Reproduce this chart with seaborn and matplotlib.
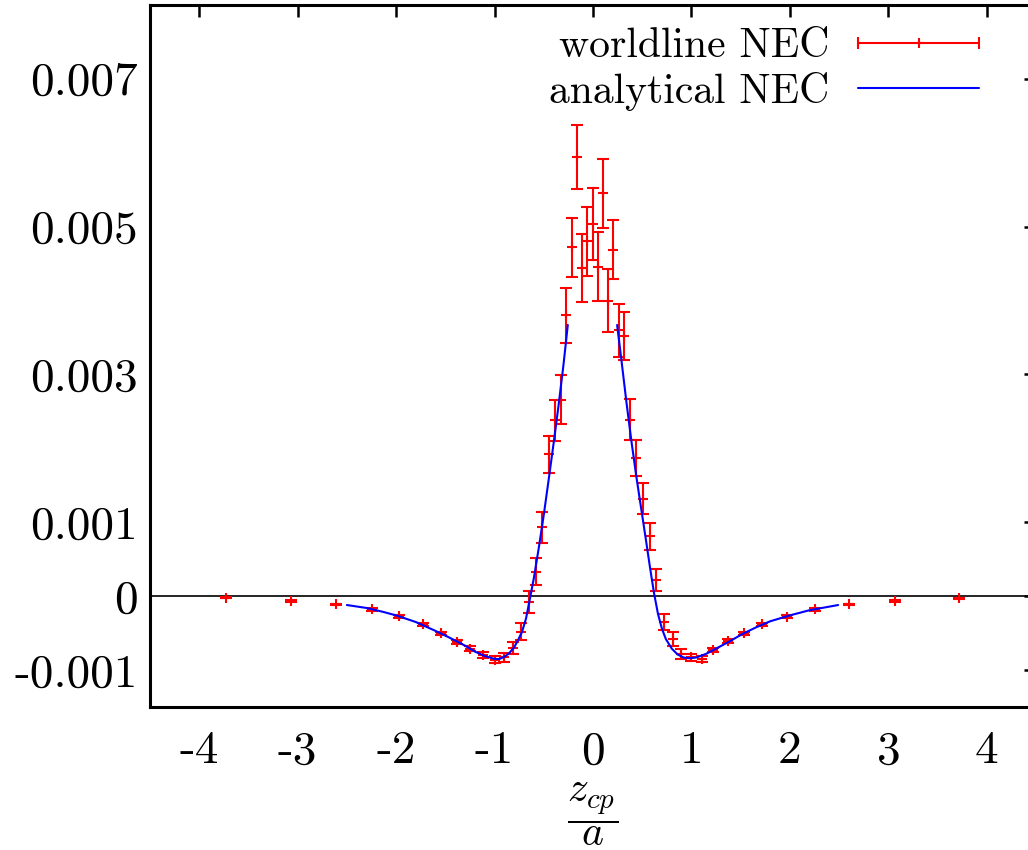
import numpy as np
import pandas as pd
import matplotlib
matplotlib.use('Agg')
import matplotlib.pyplot as plt
import seaborn as sns
from matplotlib.lines import Line2D
from matplotlib.legend_handler import HandlerLine2D, HandlerTuple

# worldline NEC data (with errors)
x_wl = [-3.73, -3.07, -2.61, -2.25, -1.97, -1.73, -1.54, -1.38, -1.25, -1.12,
        -1.0, -0.90, -0.81, -0.73, -0.652, -0.584, -0.516, -0.45, -0.384, -0.327,
        -0.272, -0.218, -0.165, -0.11, -0.056, 0.0, 0.046, 0.10, 0.154, 0.205,
        0.262, 0.317, 0.377, 0.438, 0.506, 0.574, 0.64, 0.726, 0.81, 0.895,
        0.997, 1.11, 1.22, 1.37, 1.53, 1.72, 1.97, 2.25, 2.60, 3.07, 3.72]
y_wl = [-0.00002, -0.000064, -0.00011, -0.00018, -0.00027, -0.00038, -0.0005, -0.00062, -0.00071, -0.0008,
        -0.00086, -0.00083, -0.0007, -0.00048, -0.00008, 0.00033, 0.00093, 0.00192, 0.00238, 0.00266,
        0.0038, 0.00472, 0.00594, 0.00444, 0.0048, 0.00504, 0.00446, 0.00545, 0.0040, 0.00469,
        0.0036, 0.00352, 0.00239, 0.00187, 0.00132, 0.00081, 0.00022, -0.00035, -0.00058, -0.00078,
        -0.00083, -0.00085, -0.00073, -0.00061, -0.0005, -0.00038, -0.00028, -0.00018, -0.00011, -0.000064, -0.00003]
err_wl = [0.00001, 0.00001, 0.00001, 0.000015, 0.00002, 0.00002, 0.00002, 0.00003, 0.00003, 0.00004,
          0.00005, 0.00006, 0.00008, 0.00011, 0.00015, 0.00018, 0.00021, 0.00025, 0.00028, 0.00033,
          0.00037, 0.0004, 0.00043, 0.00046, 0.00047, 0.00049, 0.00047, 0.00047, 0.00043, 0.0004,
          0.00036, 0.00033, 0.00028, 0.00025, 0.00021, 0.00018, 0.00015, 0.00011, 0.0001, 0.00007,
          0.00005, 0.00004, 0.00003, 0.00003, 0.00002, 0.00002, 0.00002, 0.000015, 0.00001, 0.00001, 0.00001]

# analytical NEC curve (two branches)
x_an_left = [-2.50, -2.30, -2.14, -2.0, -1.8, -1.6, -1.46, -1.3, -1.2, -1.1,
             -1.0, -0.95, -0.90, -0.85, -0.80, -0.76, -0.72, -0.68, -0.64, -0.60,
             -0.55, -0.50, -0.45, -0.40, -0.35, -0.30, -0.256]
y_an_left = [-0.00012, -0.00016, -0.00021, -0.00026, -0.00035, -0.00047, -0.00056, -0.00067, -0.00075, -0.00081,
             -0.00085, -0.00085, -0.00082, -0.00077, -0.00069, -0.00059, -0.00048, -0.0003, -0.00003, 0.00025,
             0.00066, 0.0011, 0.00158, 0.00207, 0.00258, 0.00313, 0.00367]
x_an_right = [0.245, 0.29, 0.34, 0.39, 0.44, 0.49, 0.54, 0.58, 0.62, 0.66,
              0.70, 0.74, 0.80, 0.86, 0.92, 0.98, 1.05, 1.15, 1.25, 1.39,
              1.52, 1.66, 1.80, 2.0, 2.2, 2.49]
y_an_right = [0.00367, 0.00318, 0.00262, 0.0021, 0.00162, 0.00118, 0.00074, 0.00038, 0.00004, -0.00024,
              -0.00044, -0.00058, -0.00071, -0.00079, -0.00083, -0.00084, -0.00083, -0.00078, -0.00071, -0.00061,
              -0.00051, -0.00042, -0.00034, -0.00026, -0.00019, -0.00012]

xticks = [-4, -3, -2, -1, 0, 1, 2, 3, 4]
xtick_labels = ['-4', '-3', '-2', '-1', '0', '1', '2', '3', '4']
yticks = [-0.001, 0.0, 0.001, 0.003, 0.005, 0.007]
ytick_labels = ['-0.001', '0', '0.001', '0.003', '0.005', '0.007']

sns.set_theme(style='white')
plt.rcParams.update({
    'font.family': ['cmr10', 'DejaVu Serif'],
    'mathtext.fontset': 'cm',
    'axes.unicode_minus': False,
    'axes.formatter.use_mathtext': True,
    'text.color': 'black',
    'axes.labelcolor': 'black',
    'xtick.color': 'black',
    'ytick.color': 'black',
})

FS = 30
TFS = 34
fig = plt.figure(figsize=(10.28, 8.5), dpi=100)
ax = fig.add_axes([150 / 1028, 143 / 850, 886 / 1028, 702 / 850])

ax.axhline(0, color='black', lw=1.2, zorder=1)
ax.errorbar(x_wl, y_wl, yerr=err_wl, fmt='+', color='red', ms=7, mew=1.5,
            elinewidth=1.5, capsize=4.3, capthick=1.5, zorder=3)
df_l = pd.DataFrame({'x': x_an_left, 'y': y_an_left})
df_r = pd.DataFrame({'x': x_an_right, 'y': y_an_right})
sns.lineplot(data=df_l, x='x', y='y', color='blue', lw=1.5, sort=False,
             estimator=None, ax=ax, zorder=4)
sns.lineplot(data=df_r, x='x', y='y', color='blue', lw=1.5, sort=False,
             estimator=None, ax=ax, zorder=4)

ax.set_xlim(-4.5, 4.5)
ax.set_ylim(-0.0015, 0.008)
ax.set_xticks(xticks)
ax.set_xticklabels(xtick_labels)
ax.set_yticks(yticks)
ax.set_yticklabels(ytick_labels)
ax.tick_params(direction='in', length=8.3, width=1.8, top=True, right=True,
               labelsize=TFS, color='black', labelcolor='black')
ax.tick_params(axis='y', pad=9)
ax.tick_params(axis='x', pad=17)
for sp in ax.spines.values():
    sp.set_linewidth(2.2)
    sp.set_color('black')
ax.set_ylabel('')
ax.set_xlabel(r'$\dfrac{z_{cp}}{a}$', fontsize=FS, labelpad=6, color='black')

# legend
cap_line = Line2D([], [], color='red', lw=1.5, marker='|', ms=9, mew=1.5)
mid_mark = Line2D([], [], color='red', lw=0, marker='+', ms=7, mew=1.5)
blue_line = Line2D([], [], color='blue', lw=1.5)
leg = ax.legend([(cap_line, mid_mark), blue_line], ['worldline NEC', 'analytical NEC'],
                handler_map={cap_line: HandlerLine2D(numpoints=2, marker_pad=0),
                             mid_mark: HandlerLine2D(numpoints=1),
                             tuple: HandlerTuple(ndivide=1, pad=0)},
                loc='upper right', bbox_to_anchor=(979 / 1028, 822 / 850),
                bbox_transform=fig.transFigure, frameon=False, fontsize=FS,
                markerfirst=False, handlelength=2.9, handletextpad=0.7,
                labelspacing=0.15, borderpad=0, borderaxespad=0,
                labelcolor='black')

fig.savefig('out.png', dpi=100)
